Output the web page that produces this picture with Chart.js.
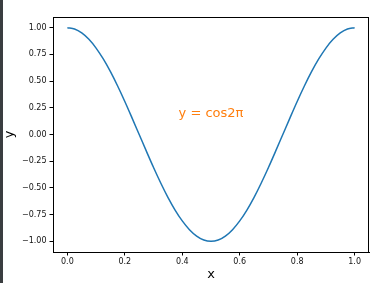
<!DOCTYPE html>
<html>
<head>
<meta charset="utf-8">
<script src="https://cdn.jsdelivr.net/npm/chart.js@4/dist/chart.umd.min.js"></script>
<style>
  html, body { margin: 0; padding: 0; background: #fff; }
  #wrap { width: 377px; height: 283px; position: relative; }
</style>
</head>
<body>
<div id="wrap"><canvas id="myChart" width="377" height="283"></canvas></div>
<script>
// x values along the curve and y values
var xValues = [0, 0.025, 0.05, 0.075, 0.1, 0.125, 0.15, 0.175, 0.2, 0.225, 0.25,
               0.275, 0.3, 0.325, 0.35, 0.375, 0.4, 0.425, 0.45, 0.475, 0.5,
               0.525, 0.55, 0.575, 0.6, 0.625, 0.65, 0.675, 0.7, 0.725, 0.75,
               0.775, 0.8, 0.825, 0.85, 0.875, 0.9, 0.925, 0.95, 0.975, 1];
var yValues = [1, 0.988, 0.951, 0.891, 0.809, 0.707, 0.588, 0.454, 0.309, 0.156, 0,
               -0.156, -0.309, -0.454, -0.588, -0.707, -0.809, -0.891, -0.951, -0.988, -1,
               -0.988, -0.951, -0.891, -0.809, -0.707, -0.588, -0.454, -0.309, -0.156, 0,
               0.156, 0.309, 0.454, 0.588, 0.707, 0.809, 0.891, 0.951, 0.988, 1];
var xTicks = [0, 0.2, 0.4, 0.6, 0.8, 1.0];
var yTicks = [-1, -0.75, -0.5, -0.25, 0, 0.25, 0.5, 0.75, 1];
var annotationText = 'y = cos2π';
var annotationPos = [0.5, 0.2];

var points = [];
for (var i = 0; i < xValues.length; i++) {
    points.push({x: xValues[i], y: yValues[i]});
}

var tickFont = {family: 'DejaVu Sans', size: 8};

function minus(s) {
    return s.replace('-', '\u2212');
}

// frame, axis labels, annotation and the dark strip on the left
var extras = {
    id: 'extras',
    beforeDraw: function(chart) {
        var c = chart.ctx;
        c.save();
        c.fillStyle = '#fff';
        c.fillRect(0, 0, chart.width, chart.height);
        c.fillStyle = '#3a3d40';
        c.fillRect(0, 0, 3, chart.height);
        c.restore();
    },
    afterDraw: function(chart) {
        var c = chart.ctx;
        var a = chart.chartArea;
        c.save();
        c.strokeStyle = '#000';
        c.lineWidth = 1;
        c.strokeRect(a.left + 0.5, a.top + 0.5, a.right - a.left - 1, a.bottom - a.top);

        c.fillStyle = '#000';
        c.font = '13px "DejaVu Sans"';
        c.textAlign = 'center';
        c.textBaseline = 'middle';
        c.fillText('x', (a.left + a.right) / 2, 275);
        c.translate(10, (a.top + a.bottom) / 2);
        c.rotate(-Math.PI / 2);
        c.fillText('y', 0, 0);
        c.restore();

        c.save();
        c.fillStyle = '#ff7f0e';
        c.font = '13px "DejaVu Sans"';
        c.textAlign = 'center';
        c.textBaseline = 'middle';
        c.fillText(annotationText,
            chart.scales.x.getPixelForValue(annotationPos[0]),
            chart.scales.y.getPixelForValue(annotationPos[1]));
        c.restore();
    }
};

new Chart(document.getElementById('myChart'), {
    type: 'line',
    data: {
        datasets: [{
            data: points,
            borderColor: '#1f77b4',
            borderWidth: 1.5,
            pointRadius: 0,
            fill: false,
            cubicInterpolationMode: 'monotone'
        }]
    },
    options: {
        responsive: false,
        animation: false,
        layout: {padding: {left: 0, top: 17, right: 8, bottom: 0}},
        plugins: {legend: {display: false}, tooltip: {enabled: false}},
        scales: {
            x: {
                type: 'linear',
                min: -0.05,
                max: 1.05,
                afterBuildTicks: function(scale) {
                    scale.ticks = xTicks.map(function(v) { return {value: v}; });
                },
                afterFit: function(scale) { scale.height = 31; },
                grid: {drawOnChartArea: false, drawTicks: true, tickLength: 3.5, color: '#000'},
                border: {display: true, color: '#000'},
                ticks: {
                    font: tickFont, color: '#111', padding: 2, maxRotation: 0,
                    callback: function(v) { return minus(v.toFixed(1)); }
                }
            },
            y: {
                type: 'linear',
                min: -1.1,
                max: 1.1,
                afterBuildTicks: function(scale) {
                    scale.ticks = yTicks.map(function(v) { return {value: v}; });
                },
                afterFit: function(scale) { scale.width = 53; },
                grid: {drawOnChartArea: false, drawTicks: true, tickLength: 3.5, color: '#000'},
                border: {display: true, color: '#000'},
                ticks: {
                    font: tickFont, color: '#111', padding: 3,
                    callback: function(v) { return minus(v.toFixed(2)); }
                }
            }
        }
    },
    plugins: [extras]
});
</script>
</body>
</html>
